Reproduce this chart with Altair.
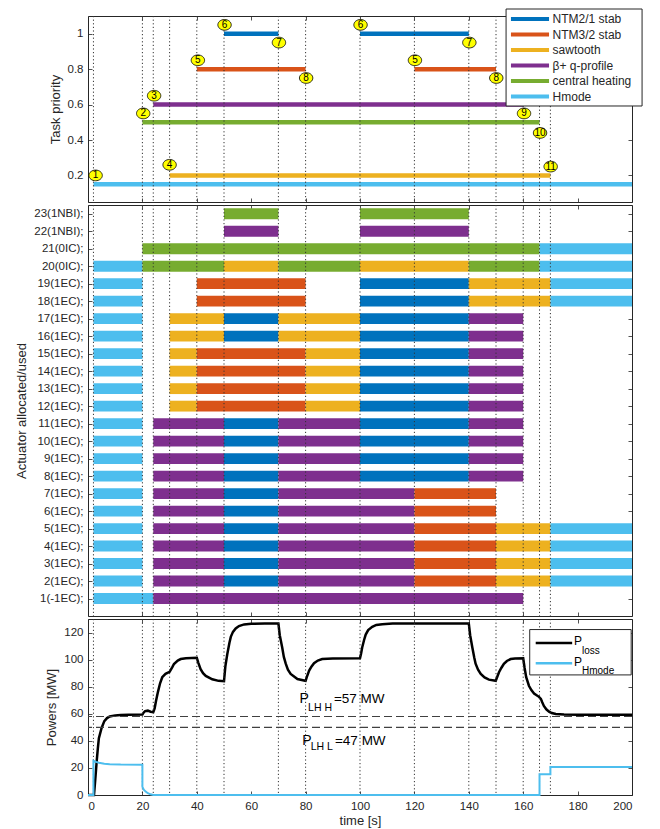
import altair as alt
import pandas as pd

FONT = "Liberation Sans"
INK = "#262626"

# ---------------- data ----------------
tasks = ["NTM2/1 stab", "NTM3/2 stab", "sawtooth", "β+ q-profile", "central heating", "Hmode"]
task_colors = ["#0072BD", "#D95319", "#EDB120", "#7E2F8E", "#77AC30", "#4DBEEE"]
N21, N32, SAW, BQ, CH, HM = tasks

# top panel: task activation intervals and priorities
prio_task = [N21, N21, N32, N32, SAW, BQ, CH, HM]
prio_start = [50, 100, 40, 120, 30, 24, 20, 2]
prio_end = [70, 140, 80, 150, 170, 160, 166, 200]
prio_value = [1.0, 1.0, 0.8, 0.8, 0.2, 0.6, 0.5, 0.15]

# numbered events
event_num = ["1", "2", "3", "4", "5", "6", "7", "8", "6", "7", "5", "8", "9", "10", "11"]
event_t = [2.8, 20.3, 24.3, 30, 40.4, 50.2, 70.2, 80.2, 100.2, 140.2, 120.2, 150.1, 160.3, 166.2, 170.1]
event_p = [0.2, 0.55, 0.65, 0.26, 0.85, 1.05, 0.95, 0.75, 1.05, 0.95, 0.85, 0.75, 0.55, 0.44, 0.25]

# dotted event lines
event_times = [2, 20, 24, 30, 40, 50, 70, 80, 100, 120, 140, 150, 160, 166, 170]

x_ticks = [0, 20, 40, 60, 80, 100, 120, 140, 160, 180, 200]
prio_ticks = [0.2, 0.4, 0.6, 0.8, 1]
power_ticks = [0, 20, 40, 60, 80, 100, 120]

# actuators
act_labels = ["1(-1EC);", "2(1EC);", "3(1EC);", "4(1EC);", "5(1EC);", "6(1EC);", "7(1EC);",
              "8(1EC);", "9(1EC);", "10(1EC);", "11(1EC);", "12(1EC);", "13(1EC);", "14(1EC);",
              "15(1EC);", "16(1EC);", "17(1EC);", "18(1EC);", "19(1EC);", "20(0IC);", "21(0IC);",
              "22(1NBI);", "23(1NBI);"]

pat_row1 = [(2, 24, HM), (24, 160, BQ)]
pat_rows2_5 = [(2, 20, HM), (24, 50, BQ), (50, 70, N21), (70, 120, BQ), (120, 150, N32), (150, 170, SAW), (170, 200, HM)]
pat_rows6_7 = [(2, 20, HM), (24, 50, BQ), (50, 70, N21), (70, 120, BQ), (120, 150, N32)]
pat_rows8_11 = [(2, 20, HM), (24, 50, BQ), (50, 70, N21), (70, 100, BQ), (100, 140, N21), (140, 160, BQ)]
pat_rows12_15 = [(2, 20, HM), (30, 40, SAW), (40, 80, N32), (80, 100, SAW), (100, 140, N21), (140, 160, BQ)]
pat_rows16_17 = [(2, 20, HM), (30, 50, SAW), (50, 70, N21), (70, 100, SAW), (100, 140, N21), (140, 160, BQ)]
pat_rows18_19 = [(2, 20, HM), (40, 80, N32), (100, 140, N21), (140, 170, SAW), (170, 200, HM)]
pat_row20 = [(2, 20, HM), (20, 50, CH), (50, 70, SAW), (70, 100, CH), (100, 140, SAW), (140, 166, CH), (166, 200, HM)]
pat_row21 = [(20, 166, CH), (166, 200, HM)]
pat_row22 = [(50, 70, BQ), (100, 140, BQ)]
pat_row23 = [(50, 70, CH), (100, 140, CH)]

row_patterns = {1: pat_row1, 2: pat_rows2_5, 3: pat_rows2_5, 4: pat_rows2_5, 5: pat_rows2_5,
                6: pat_rows6_7, 7: pat_rows6_7, 8: pat_rows8_11, 9: pat_rows8_11, 10: pat_rows8_11,
                11: pat_rows8_11, 12: pat_rows12_15, 13: pat_rows12_15, 14: pat_rows12_15,
                15: pat_rows12_15, 16: pat_rows16_17, 17: pat_rows16_17, 18: pat_rows18_19,
                19: pat_rows18_19, 20: pat_row20, 21: pat_row21, 22: pat_row22, 23: pat_row23}

# powers
ploss_t = [0, 2.2, 2.7, 3.2, 3.6, 4, 5, 6, 7, 8, 10, 12, 15, 20, 20.5, 21, 22, 23, 24, 24.5, 25,
           25.7, 26.5, 27.3, 28.5, 30, 31, 31.6, 33, 34.1, 36, 40, 40.5, 41.4, 42.3, 43.3, 45.7,
           48, 50, 50.5, 51.2, 52, 52.5, 53.3, 54.3, 55.5, 57.4, 60, 65, 70, 70.5, 71.4, 72, 72.7,
           73.5, 74.5, 77, 79.8, 80, 80.5, 81.3, 82.2, 83.1, 84.5, 86.1, 90, 100, 100.4, 100.8,
           101.5, 102.1, 103, 104.5, 106, 108.2, 112, 140, 140.5, 141.3, 142, 142.5, 143.4, 144.4,
           145.8, 147.4, 149.9, 150.4, 151.1, 152, 152.9, 154, 155.4, 157, 160, 160.5, 161.1,
           162.1, 163, 164, 165.8, 166.5, 167, 167.6, 168.5, 169.5, 170.5, 172, 175, 180, 200]
ploss_v = [0, 0, 12, 25, 34, 42, 49.5, 54.6, 56.8, 58.0, 58.8, 59.1, 59.3, 59.4, 61, 62, 62.3,
           61.5, 61.2, 64, 69.5, 76, 82.5, 87, 89.5, 91, 94.5, 96.8, 99.3, 100.4, 101, 101.3, 98,
           93, 90, 88, 85.5, 84.3, 84, 95, 104, 112.5, 116.8, 120.5, 123, 124.8, 126, 126.5,
           126.7, 126.7, 118, 109, 102, 97, 92.5, 89.4, 85.7, 84.4, 84.3, 87.5, 91.9, 95, 97.4,
           99.3, 100.4, 100.9, 101, 104.5, 109, 114.5, 118.5, 121.8, 124.2, 125.6, 126.2, 126.6,
           126.7, 118, 109, 101.5, 97, 92.5, 89.4, 86.8, 85.2, 84.4, 87, 90.7, 94, 96.9, 99,
           100.4, 100.9, 101, 94, 87, 80.7, 77.5, 75, 72.5, 71, 68.5, 65.8, 63.3, 61.6, 60.5,
           59.8, 59.4, 59.3, 59.3]
hmode_t = [0, 2, 2, 3, 4, 6, 8, 12, 20, 20, 20.5, 21.2, 22, 23, 24, 166, 166, 170, 170, 200]
hmode_v = [0, 0, 25.3, 24.5, 23.8, 23.1, 22.8, 22.5, 22.4, 6, 4, 2.5, 1.3, 0.5, 0, 0, 15.4, 15.4, 20.6, 20.6]

plh_levels = [58, 50]

# ---------------- layout constants ----------------
W = 544
H_TOP, H_MID, H_BOT = 186, 411, 176
XDOM = [0, 200]
TOP_DOM = [0.05, 1.1]
MID_DOM = [0, 23.5]
BOT_DOM = [0, 130]


def xs():
    return alt.Scale(domain=XDOM, nice=False, zero=False)


def ys(dom):
    return alt.Scale(domain=dom, nice=False, zero=False)


def axis(orient, values, title=None, labels=True, **kw):
    opts = dict(offset=-4, tickSize=4, domain=False, grid=False, tickColor=INK, tickWidth=0.8,
                labelFont=FONT, labelFontSize=11.5, labelColor=INK, labelPadding=5,
                titleFont=FONT, titleFontSize=13, titleFontWeight="normal",
                titleColor=INK, titlePadding=5)
    opts.update(kw)
    return alt.Axis(orient=orient, values=values, title=title, labels=labels, **opts)


def X(field, ax):
    return alt.X(field, scale=xs(), axis=ax)


def Y(field, dom, ax):
    return alt.Y(field, scale=ys(dom), axis=ax)


ev_df = pd.DataFrame({"t": event_times})


def ev_rules(xa):
    return alt.Chart(ev_df).mark_rule(strokeDash=[1.2, 2.4], strokeWidth=1, color="#333").encode(
        x=X("t:Q", xa))


def frame_ticks(ydom, yvals):
    df = pd.DataFrame({"x": [XDOM[0]], "y": [ydom[0]]})
    return alt.Chart(df).mark_point(opacity=0).encode(
        x=X("x:Q", axis("top", x_ticks, labels=False)),
        y=Y("y:Q", ydom, axis("right", yvals, labels=False)))


color_scale = alt.Scale(domain=tasks, range=task_colors)

# ---------------- top panel ----------------
xa_top = axis("bottom", x_ticks, labels=False)
ya_top = axis("left", prio_ticks, title="Task priority", format="~g")

prio_df = pd.DataFrame({"task": prio_task, "start": prio_start, "end": prio_end, "value": prio_value})
bars_top = alt.Chart(prio_df).mark_rule(strokeWidth=4.5).encode(
    x=X("start:Q", xa_top), x2="end:Q", y=Y("value:Q", TOP_DOM, ya_top),
    color=alt.Color("task:N", scale=color_scale, legend=None))

ev_label_df = pd.DataFrame({"n": event_num, "t": event_t, "p": event_p})
ellipse = "M-1,0A1,0.8,0,1,1,1,0A1,0.8,0,1,1,-1,0Z"
circles = alt.Chart(ev_label_df).mark_point(shape=ellipse, size=180, filled=True, fill="#FFFF00",
                                            stroke="black", strokeWidth=0.8, opacity=1).encode(
    x=X("t:Q", xa_top), y=Y("p:Q", TOP_DOM, ya_top))
numbers = alt.Chart(ev_label_df).mark_text(font=FONT, fontSize=10, color="black", baseline="middle",
                                           align="center").encode(
    x=X("t:Q", xa_top), y=Y("p:Q", TOP_DOM, ya_top), text="n:N")

# legend (manual, in data coordinates of the top panel)
leg_df = pd.DataFrame({"task": tasks, "i": list(range(len(tasks)))})
leg_box = alt.Chart(pd.DataFrame({"a": [153.7], "b": [203.7], "c": [0.592], "d": [1.1395]})).mark_rect(
    fill="white", stroke=INK, strokeWidth=1).encode(
    x=X("a:Q", xa_top), x2="b:Q", y=Y("c:Q", TOP_DOM, ya_top), y2="d:Q")
leg_base = alt.Chart(leg_df).transform_calculate(ly="1.083 - datum.i * 0.0875", lx0="155.5",
                                                 lx1="169.5", tx="170.8")
leg_lines = leg_base.mark_rule(strokeWidth=4).encode(
    x=X("lx0:Q", xa_top), x2="lx1:Q", y=Y("ly:Q", TOP_DOM, ya_top),
    color=alt.Color("task:N", scale=color_scale, legend=None))
leg_text = leg_base.mark_text(font=FONT, fontSize=12, color=INK, align="left", baseline="middle").encode(
    x=X("tx:Q", xa_top), y=Y("ly:Q", TOP_DOM, ya_top), text="task:N")

top = alt.layer(
    alt.layer(bars_top, ev_rules(xa_top), circles, numbers, leg_box, leg_lines, leg_text),
    frame_ticks(TOP_DOM, prio_ticks)
).resolve_scale(x="independent", y="independent").properties(width=W, height=H_TOP)

# ---------------- middle panel ----------------
xa_mid = axis("bottom", x_ticks, labels=False)
label_expr = "[" + ",".join(["''"] + ["'" + l + "'" for l in act_labels]) + "][datum.value]"
ya_mid = axis("left", list(range(1, 24)), title="Actuator allocated/used", labelExpr=label_expr)

rows = []
for act, segs in row_patterns.items():
    for s, e, task in segs:
        rows.append({"act": act, "start": s, "end": e, "task": task})
seg_df = pd.DataFrame(rows)
mid_bars = alt.Chart(seg_df).transform_calculate(y0="datum.act - 0.31", y1="datum.act + 0.31").mark_rect().encode(
    x=X("start:Q", xa_mid), x2="end:Q", y=Y("y0:Q", MID_DOM, ya_mid), y2="y1:Q",
    color=alt.Color("task:N", scale=color_scale, legend=None))

mid = alt.layer(
    alt.layer(mid_bars, ev_rules(xa_mid)),
    frame_ticks(MID_DOM, list(range(1, 24)))
).resolve_scale(x="independent", y="independent").properties(width=W, height=H_MID)

# ---------------- bottom panel ----------------
xa_bot = axis("bottom", x_ticks, title="time [s]", titlePadding=3)
ya_bot = axis("left", power_ticks, title="Powers [MW]")

ploss_df = pd.DataFrame({"t": ploss_t, "p": ploss_v, "i": list(range(len(ploss_t)))})
hmode_df = pd.DataFrame({"t": hmode_t, "p": hmode_v, "i": list(range(len(hmode_t)))})

loss_line = alt.Chart(ploss_df).mark_line(color="black", strokeWidth=2.5).encode(
    x=X("t:Q", xa_bot), y=Y("p:Q", BOT_DOM, ya_bot), order="i:Q")
hm_line = alt.Chart(hmode_df).mark_line(color="#4DBEEE", strokeWidth=2).encode(
    x=X("t:Q", xa_bot), y=Y("p:Q", BOT_DOM, ya_bot), order="i:Q")

dashed = alt.Chart(pd.DataFrame({"p": plh_levels})).mark_rule(strokeDash=[8, 4], strokeWidth=1.2,
                                                             color="#404040").encode(
    y=Y("p:Q", BOT_DOM, ya_bot))


def txt(t, p, s, size):
    return alt.Chart(pd.DataFrame({"t": [t], "p": [p], "s": [s]})).mark_text(
        font=FONT, fontSize=size, color="black", align="left", baseline="alphabetic").encode(
        x=X("t:Q", xa_bot), y=Y("p:Q", BOT_DOM, ya_bot), text="s:N")


annots = [
    txt(77.8, 67.8, "P", 14), txt(80.9, 62.0, "LH H", 10.5), txt(90.4, 67.8, "=57 MW", 13.5),
    txt(78.8, 37.3, "P", 14), txt(81.9, 33.5, "LH L", 10.5), txt(90.8, 37.3, "=47 MW", 13.5),
]

# manual legend of the bottom panel
bleg_box = alt.Chart(pd.DataFrame({"a": [162.4], "b": [199.7], "c": [88.7], "d": [122.2]})).mark_rect(
    fill="white", stroke=INK, strokeWidth=1).encode(
    x=X("a:Q", xa_bot), x2="b:Q", y=Y("c:Q", BOT_DOM, ya_bot), y2="d:Q")


def bleg_line(p, color):
    return alt.Chart(pd.DataFrame({"a": [164.6], "b": [178.0], "p": [p]})).mark_rule(
        color=color, strokeWidth=2.5).encode(
        x=X("a:Q", xa_bot), x2="b:Q", y=Y("p:Q", BOT_DOM, ya_bot))


bleg = [bleg_box, bleg_line(112.3, "black"), bleg_line(97.4, "#4DBEEE"),
        txt(178.7, 110.5, "P", 12), txt(181.6, 104.5, "loss", 10),
        txt(178.7, 95.2, "P", 12), txt(181.6, 89.6, "Hmode", 10)]

bot = alt.layer(
    alt.layer(loss_line, ev_rules(xa_bot), dashed, *annots, hm_line, *bleg),
    frame_ticks(BOT_DOM, power_ticks)
).resolve_scale(x="independent", y="independent").properties(width=W, height=H_BOT)

chart = alt.vconcat(top, mid, bot, spacing=3, bounds="flush").resolve_scale(
    x="independent", y="independent", color="independent"
).properties(
    padding={"left": 7, "top": 0, "right": 2, "bottom": 0}
).configure(font=FONT).configure_view(stroke=INK, strokeWidth=1)

chart.save("out.html", embed_options={"renderer": "svg", "actions": False})
